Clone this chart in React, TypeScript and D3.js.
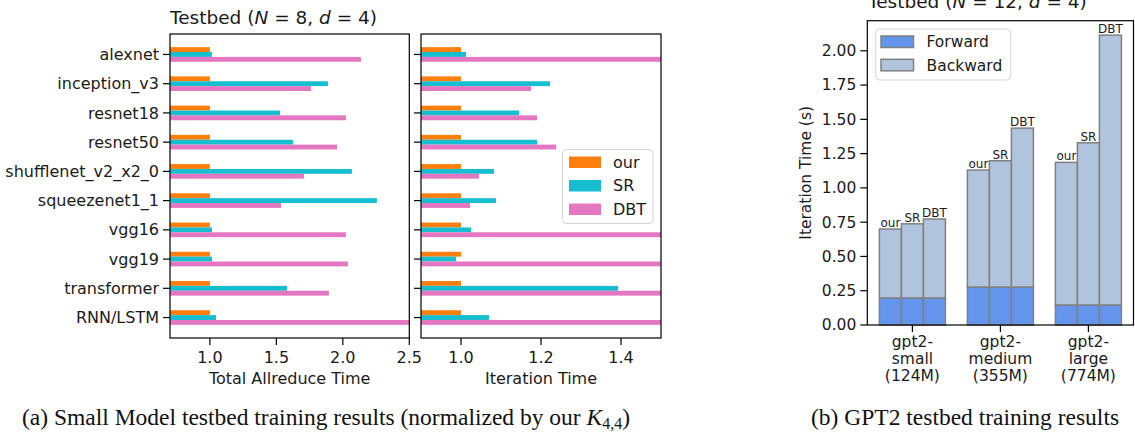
import React from 'react';
import * as d3 from 'd3';

const categories = ['alexnet', 'inception_v3', 'resnet18', 'resnet50', 'shufflenet_v2_x2_0', 'squeezenet1_1', 'vgg16', 'vgg19', 'transformer', 'RNN/LSTM'];
const seriesNames = ['our', 'SR', 'DBT'];
const allreduceOur = [1, 1, 1, 1, 1, 1, 1, 1, 1, 1];
const allreduceSR = [1.015, 1.888, 1.527, 1.625, 2.068, 2.256, 1.016, 1.016, 1.58, 1.046];
const allreduceDBT = [2.136, 1.76, 2.023, 1.956, 1.707, 1.535, 2.023, 2.038, 1.895, 2.62];
const iterOur = [1, 1, 1, 1, 1, 1, 1, 1, 1, 1];
const iterSR = [1.0125, 1.2225, 1.145, 1.19, 1.0825, 1.0875, 1.025, 0.9875, 1.3925, 1.07];
const iterDBT = [1.62, 1.175, 1.19, 1.2375, 1.045, 1.0225, 1.7, 1.75, 1.6, 1.8];
const allreduceTicks = [1.0, 1.5, 2.0, 2.5];
const iterTicks = [1.0, 1.2, 1.4];

const gptModels = [['gpt2-', 'small', '(124M)'], ['gpt2-', 'medium', '(355M)'], ['gpt2-', 'large', '(774M)']];
const gptMethods = ['our', 'SR', 'DBT'];
const forwardSmall = [0.197, 0.197, 0.197];
const forwardMedium = [0.277, 0.277, 0.277];
const forwardLarge = [0.146, 0.146, 0.146];
const backwardSmall = [0.503, 0.541, 0.576];
const backwardMedium = [0.853, 0.921, 1.159];
const backwardLarge = [1.04, 1.183, 1.968];
const gptYTicks = [0, 0.25, 0.5, 0.75, 1.0, 1.25, 1.5, 1.75, 2.0];

const COLORS = ['#ff7f0e', '#17becf', '#e377c2'];
const FWD = '#6495ed';
const BWD = '#b0c4de';
const FONT = 'DejaVu Sans, sans-serif';
const LFS = 16;
const RFS = 15.5;

function HBarPanel({ left, right, top, bottom, domain, ticks, series, clipId, xlabel, showLabels, legend }) {
  const x = d3.scaleLinear().domain(domain).range([left, right]);
  const y = d3.scaleLinear().domain([-0.7, categories.length - 0.3]).range([top, bottom]);
  const bw = 0.5 / 3;
  return (
    <g>
      <defs>
        <clipPath id={clipId}>
          <rect x={left} y={top} width={right - left} height={bottom - top} />
        </clipPath>
      </defs>
      <g clipPath={`url(#${clipId})`}>
        {series.map((vals, j) =>
          vals.map((v, i) => {
            const yc = i + (j - 1) * bw;
            return (
              <rect key={`${j}-${i}`} x={x(0)} width={x(v) - x(0)} y={y(yc - bw / 2)} height={y(yc + bw / 2) - y(yc - bw / 2)} fill={COLORS[j]} />
            );
          })
        )}
      </g>
      <rect x={left} y={top} width={right - left} height={bottom - top} fill="none" stroke="#000" strokeWidth={1.2} />
      {categories.map((c, i) => (
        <g key={c}>
          <line x1={left - 7} x2={left} y1={y(i)} y2={y(i)} stroke="#000" strokeWidth={1.2} />
          {showLabels && (
            <text x={left - 11} y={y(i)} dy="0.35em" textAnchor="end" fontSize={LFS} fontFamily={FONT} fill="#1a1a1a">{c}</text>
          )}
        </g>
      ))}
      {ticks.map(t => (
        <g key={t}>
          <line x1={x(t)} x2={x(t)} y1={bottom} y2={bottom + 7} stroke="#000" strokeWidth={1.2} />
          <text x={x(t)} y={362.5} textAnchor="middle" fontSize={LFS} fontFamily={FONT} fill="#1a1a1a">{t.toFixed(1)}</text>
        </g>
      ))}
      <text x={(left + right) / 2} y={384} textAnchor="middle" fontSize={LFS} fontFamily={FONT} fill="#1a1a1a">{xlabel}</text>
      {legend && (
        <g>
          <rect x={562.5} y={149.5} width={90.5} height={74} rx={4} fill="#fff" fillOpacity={0.85} stroke="#d5d5d5" strokeWidth={1} />
          {seriesNames.map((s, j) => (
            <g key={s}>
              <rect x={569} y={156.5 + j * 23.5} width={32} height={11.5} fill={COLORS[j]} />
              <text x={613} y={162.2 + j * 23.5} dy="0.35em" fontSize={LFS} fontFamily={FONT} fill="#1a1a1a">{s}</text>
            </g>
          ))}
        </g>
      )}
    </g>
  );
}

function GptPanel() {
  const left = 867.3, right = 1133.5, top = 20.7, bottom = 325;
  const x = d3.scaleLinear().domain([-0.5125, 2.5125]).range([left, right]);
  const y = d3.scaleLinear().domain([0, 2.2195]).range([bottom, top]);
  const forward = [forwardSmall, forwardMedium, forwardLarge];
  const backward = [backwardSmall, backwardMedium, backwardLarge];
  const w = 0.25;
  return (
    <g>
      {gptModels.map((m, g) =>
        gptMethods.map((meth, k) => {
          const xc = g + (k - 1) * w;
          const f = forward[g][k];
          const b = backward[g][k];
          const x0 = x(xc - w / 2), x1 = x(xc + w / 2);
          return (
            <g key={`${g}-${k}`}>
              <rect x={x0} width={x1 - x0} y={y(f)} height={y(0) - y(f)} fill={FWD} stroke="#808080" strokeWidth={1.5} />
              <rect x={x0} width={x1 - x0} y={y(f + b)} height={y(f) - y(f + b)} fill={BWD} stroke="#808080" strokeWidth={1.5} />
              <text x={(x0 + x1) / 2} y={y(f + b) - 2} textAnchor="middle" fontSize={12} fontFamily={FONT} fill="#1a1a1a">{meth}</text>
            </g>
          );
        })
      )}
      <rect x={left} y={top} width={right - left} height={bottom - top} fill="none" stroke="#000" strokeWidth={1.2} />
      {gptYTicks.map(t => (
        <g key={t}>
          <line x1={left - 7} x2={left} y1={y(t)} y2={y(t)} stroke="#000" strokeWidth={1.2} />
          <text x={left - 11} y={y(t)} dy="0.35em" textAnchor="end" fontSize={RFS} fontFamily={FONT} fill="#1a1a1a">{t.toFixed(2)}</text>
        </g>
      ))}
      {gptModels.map((m, g) => (
        <g key={g}>
          <line x1={x(g)} x2={x(g)} y1={bottom} y2={bottom + 7} stroke="#000" strokeWidth={1.2} />
          {m.map((line, li) => (
            <text key={li} x={x(g)} y={347 + li * 17.2} textAnchor="middle" fontSize={RFS} fontFamily={FONT} fill="#1a1a1a">{line}</text>
          ))}
        </g>
      ))}
      <text transform={`translate(811,${(top + bottom) / 2}) rotate(-90)`} textAnchor="middle" fontSize={RFS} fontFamily={FONT} fill="#1a1a1a">Iteration Time (s)</text>
      <rect x={875.7} y={29} width={135} height={51} rx={4} fill="#fff" fillOpacity={0.85} stroke="#d5d5d5" strokeWidth={1} />
      <rect x={881} y={36} width={32.5} height={11.5} fill={FWD} stroke="#808080" strokeWidth={1.5} />
      <text x={926.5} y={41.8} dy="0.35em" fontSize={RFS} fontFamily={FONT} fill="#1a1a1a">Forward</text>
      <rect x={881} y={59.3} width={32.5} height={11.5} fill={BWD} stroke="#808080" strokeWidth={1.5} />
      <text x={926.5} y={65.1} dy="0.35em" fontSize={RFS} fontFamily={FONT} fill="#1a1a1a">Backward</text>
    </g>
  );
}

function Title({ x, y, n }) {
  return (
    <text x={x} y={y} fontSize={18.5} fontFamily={FONT} fill="#1a1a1a">
      Testbed (<tspan fontStyle="italic">N</tspan> = {n}, <tspan fontStyle="italic">d</tspan> = 4)
    </text>
  );
}

export default function App() {
  return (
    <svg width={1135} height={432} style={{ position: 'absolute', left: 0, top: 0, background: '#fff' }}>
      <rect width={1135} height={432} fill="#fff" />
      <Title x={170} y={24} n={8} />
      <HBarPanel left={170} right={409.3} top={34} bottom={338} domain={[0.7, 2.5]} ticks={allreduceTicks}
        series={[allreduceOur, allreduceSR, allreduceDBT]} clipId="c1" xlabel="Total Allreduce Time" showLabels={true} legend={false} />
      <HBarPanel left={421} right={661} top={34} bottom={338} domain={[0.9, 1.5]} ticks={iterTicks}
        series={[iterOur, iterSR, iterDBT]} clipId="c2" xlabel="Iteration Time" showLabels={false} legend={true} />
      <Title x={868} y={8} n={12} />
      <GptPanel />
      <text x={22} y={424.5} fontSize={23.5} fontFamily="Liberation Serif, Times New Roman, serif" fill="#111">
        (a) Small Model testbed training results (normalized by our <tspan fontStyle="italic">K</tspan><tspan fontSize={16} dy={4}>4,4</tspan><tspan dy={-4}>)</tspan>
      </text>
      <text x={811} y={425} fontSize={23.5} fontFamily="Liberation Serif, Times New Roman, serif" fill="#111">(b) GPT2 testbed training results</text>
    </svg>
  );
}
